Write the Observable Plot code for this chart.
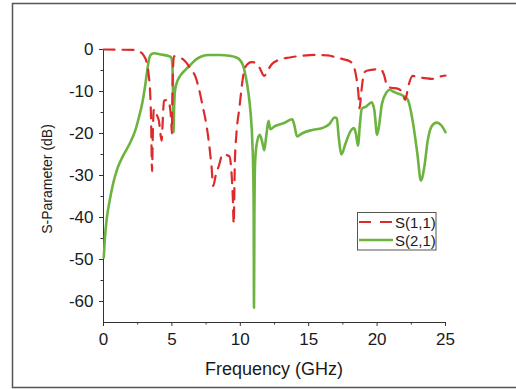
<!DOCTYPE html>
<html><head><meta charset="utf-8">
<script src="https://cdn.jsdelivr.net/npm/d3@7"></script>
<script src="https://cdn.jsdelivr.net/npm/@observablehq/plot@0.6"></script>
<style>
html,body{margin:0;padding:0;background:#fff;}
#chart{width:516px;height:389px;overflow:hidden;}
</style></head><body><div id="chart"></div>
<script>
const s11Freq = [0,1.0,2.2,2.65,2.95,3.15,3.3,3.42,3.48,3.55,3.6,3.68,3.85,4.05,4.25,4.33,4.42,4.7,4.85,4.95,5.0,5.03,5.08,5.15,5.5,5.8,6.1,6.4,6.7,6.95,7.25,7.5,7.7,7.9,8.02,8.2,8.45,8.7,9.2,9.35,9.45,9.52,9.6,9.72,9.95,10.1,10.25,10.45,10.8,11.1,11.4,11.75,12.0,12.3,12.8,13.6,14.5,15.5,16.4,17.0,17.5,18.0,18.3,18.5,18.62,18.72,18.82,18.92,19.05,19.3,20.0,20.3,20.5,20.75,21.0,21.5,21.85,22.05,22.3,22.6,23.0,23.5,24.0,24.4,25.0];
const s11Db = [0,-0.05,-0.1,-0.5,-1.5,-3,-6,-11,-17,-29,-21,-14.2,-15.3,-17,-21.7,-17,-12.2,-12,-13.5,-17,-20,-12,-5,-1.6,-1.8,-2.3,-3.3,-4.8,-6.3,-9,-13.5,-17.5,-22,-28,-32.5,-30,-27.5,-25,-25.4,-29,-35,-41.5,-27,-20,-13.5,-9,-5.5,-3.8,-3,-3.1,-4.3,-6.3,-5,-3.5,-2.5,-1.9,-1.5,-1.3,-1.4,-1.9,-2.3,-2.8,-4,-7,-10,-14,-11,-8,-5.5,-5,-4.7,-4.8,-6,-8.8,-9.1,-9.3,-10.3,-12,-8.5,-6.3,-6.6,-6.8,-7,-6.6,-6.2];
const s21Freq = [0.02,0.1,0.25,0.45,0.7,1.0,1.4,1.9,2.3,2.6,2.85,3.05,3.2,3.35,3.5,3.7,4.2,4.7,4.95,5.03,5.08,5.12,5.16,5.22,5.35,5.6,6.0,6.4,6.8,7.2,7.7,8.5,9.2,9.7,10.0,10.2,10.4,10.6,10.75,10.88,10.95,10.98,11.0,11.03,11.08,11.2,11.42,11.6,11.75,11.9,12.06,12.2,12.5,13.2,13.8,13.95,14.15,14.5,15.2,16.0,16.5,16.9,17.05,17.2,17.38,17.7,18.05,18.3,18.45,18.6,18.75,18.88,19.2,19.6,19.8,20.0,20.15,20.35,20.7,20.9,21.3,21.9,22.25,22.6,22.95,23.2,23.45,23.7,24.0,24.35,24.7,25.0];
const s21Db = [-49.5,-45,-40,-36,-32,-28.5,-25.5,-22.5,-19.5,-16,-12.5,-8.5,-5,-2,-1.1,-0.9,-1.2,-1.5,-1.9,-3.5,-10,-19.7,-14,-10,-8,-6.3,-4.8,-3.5,-2.3,-1.6,-1.3,-1.3,-1.5,-1.9,-2.6,-3.8,-6.5,-10.5,-15,-22,-30,-40,-61.5,-40,-27,-22.5,-20.3,-22,-24,-20.5,-17,-19,-18.3,-17.5,-16.6,-18,-20.7,-20,-19.2,-18.7,-17.8,-16.2,-16.4,-21,-25,-22.3,-19.5,-18.7,-20,-22.9,-17.5,-14.1,-13.6,-12.6,-14.5,-20.3,-18,-13,-10.2,-9.6,-10.2,-11,-12,-17,-25,-31.2,-28,-21.7,-18.2,-17.4,-18.1,-19.7];
const seriesNames = ["S(1,1)", "S(2,1)"];
const seriesColors = ["#dd2a2a", "#6db33f"];
const xTicks = [0,5,10,15,20,25];
const xMinor = [2.5,7.5,12.5,17.5,22.5];
const yTicks = [0,-10,-20,-30,-40,-50,-60];
const yMinor = [-5,-15,-25,-35,-45,-55];
const xLabel = "Frequency (GHz)";
const yLabel = "S-Parameter (dB)";

const s11 = s11Freq.map((f, i) => ({f, db: s11Db[i]}));
const s21 = s21Freq.map((f, i) => ({f, db: s21Db[i]}));
const font = "'Liberation Sans', Arial, sans-serif";

const plot = Plot.plot({
  width: 516, height: 389,
  marginLeft: 103, marginRight: 71, marginTop: 49, marginBottom: 67,
  style: {fontFamily: font, fontSize: "17px", color: "#1a1a1a", background: "#fff", overflow: "visible"},
  x: {domain: [0, 25]},
  y: {domain: [-65, 0]},
  marks: [
    Plot.axisX(xTicks, {tickSize: 4, tickPadding: 6, label: null, fontSize: 17, tickFormat: d => String(d), stroke: "#333"}),
    Plot.axisX(xMinor, {tickSize: 2.5, label: null, tickFormat: () => "", stroke: "#333"}),
    Plot.axisY(yTicks, {tickSize: 4, tickPadding: 6, label: null, fontSize: 17, tickFormat: d => String(d), stroke: "#333"}),
    Plot.axisY(yMinor, {tickSize: 2.5, label: null, tickFormat: () => "", stroke: "#333"}),
    Plot.ruleX([0], {stroke: "#333", strokeWidth: 1}),
    Plot.ruleY([-65], {stroke: "#333", strokeWidth: 1}),
    Plot.line(s21, {x: "f", y: "db", stroke: seriesColors[1], strokeWidth: 2.6, curve: "monotone-x"}),
    Plot.line(s11, {x: "f", y: "db", stroke: seriesColors[0], strokeWidth: 2.2, strokeDasharray: "11,8", curve: "monotone-x"})
  ]
});
document.getElementById("chart").appendChild(plot);

const svg = d3.select(plot);
// outer frame
svg.append("rect").attr("x", 12.5).attr("y", 3.5).attr("width", 620).attr("height", 384)
  .attr("fill", "none").attr("stroke", "#555").attr("stroke-width", 1.5);
// axis titles
svg.append("text").attr("x", 274).attr("y", 375).attr("text-anchor", "middle")
  .attr("font-family", font).attr("font-size", 18).attr("fill", "#1a1a1a").text(xLabel);
svg.append("text").attr("transform", "translate(47,179) rotate(-90)").attr("text-anchor", "middle")
  .attr("dominant-baseline", "central")
  .attr("font-family", font).attr("font-size", 14).attr("fill", "#1a1a1a").text(yLabel);
// legend
const lg = svg.append("g");
lg.append("rect").attr("x", 357.5).attr("y", 212.5).attr("width", 78.5).attr("height", 37.5)
  .attr("fill", "#fff").attr("stroke", "#555").attr("stroke-width", 1);
const rows = [222, 240];
seriesNames.forEach((name, i) => {
  lg.append("line").attr("x1", 359).attr("x2", 393).attr("y1", rows[i]).attr("y2", rows[i])
    .attr("stroke", seriesColors[i]).attr("stroke-width", i === 0 ? 2.2 : 2.6)
    .attr("stroke-dasharray", i === 0 ? "12,9" : null);
  lg.append("text").attr("x", 395).attr("y", rows[i]).attr("dominant-baseline", "central")
    .attr("text-anchor", "start")
    .attr("font-family", font).attr("font-size", 15).attr("fill", "#1a1a1a").text(name);
});
</script></body></html>
